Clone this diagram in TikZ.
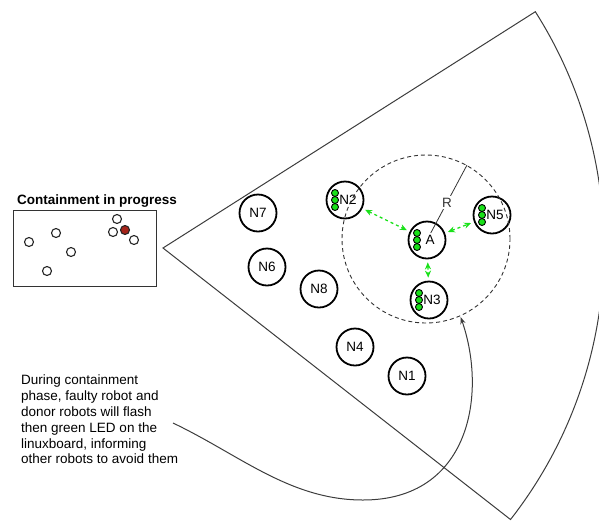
\documentclass[tikz,border=0pt]{standalone}
\usepackage{fontspec}
\setmainfont{Liberation Sans}
\usetikzlibrary{arrows.meta}
\usetikzlibrary{positioning}

\definecolor{ledgreen}{RGB}{25,225,25}
\definecolor{faulty}{RGB}{165,35,25}
\definecolor{edge}{RGB}{60,60,60}

\tikzset{
  robot/.style={circle, draw=black, line width=1.8pt, minimum size=37pt, inner sep=0pt},
  dot/.style={circle, draw=black!85, line width=1.1pt, minimum size=9pt, inner sep=0pt},
  led/.style={circle, draw=black, line width=0.9pt, fill=ledgreen, minimum size=7pt, inner sep=0pt},
  link/.style={ledgreen, dashed, line width=1.3pt, {Stealth[length=7pt, width=6pt]}-{Stealth[length=7pt, width=6pt]}, shorten <=3pt, shorten >=3pt},
}

\begin{document}
\begin{tikzpicture}[x=1pt, y=-1pt, font=\fontsize{13.5}{15.8}\selectfont]
  \useasboundingbox (0,0) rectangle (599,520);

  % the sensing sector
  \coordinate (apex) at (163,248);
  \draw[edge, line width=1pt] (apex) -- ++(-32.4:441) arc[start angle=-32.4, end angle=38, radius=441] -- cycle;

  % inset
  \node[anchor=base west, font=\bfseries\fontsize{13.5}{15.8}\selectfont, inner sep=0pt] (title) at (17,204) {Containment in progress};
  \draw[black!80, line width=1pt] (13,210) rectangle (156,286);
  \foreach \x/\y [count=\i] in {29/242, 56/233, 71/252, 47/271, 117/219, 113/232, 134/240}
    \node[dot] (d\i) at (\x,\y) {};
  \node[dot, fill=faulty] (bad) at (125,230) {};

  % robots
  \node[robot] (n7) at (258,213) {N7};
  \node[robot] (n6) at (267,267) {N6};
  \node[robot] (n8) at (319,289) {N8};
  \node[robot] (n4) at (355,347) {N4};
  \node[robot] (n1) at (407,376) {N1};
  \node[robot] (a) at (427,240) {\hspace*{6pt}A};
  \node[robot] (n2) at (345,200) {\hspace*{6pt}N2};
  \node[robot] (n5) at (492,215) {\hspace*{6pt}N5};
  \node[robot] (n3) at (429,300) {\hspace*{6pt}N3};

  % flashing leds
  \foreach \n in {a,n2,n5,n3}
    \foreach \dy in {-7,0,7}
      \node[led] (\n led\dy) at ([shift={(-10,\dy)}]\n.center) {};

  % avoidance zone
  \node[draw=black!80, circle, minimum size=168pt, line width=0.9pt, dash pattern=on 4pt off 3pt] (zone) at (426,239) {};
  \draw[black!80, line width=0.8pt, shorten <=8pt] (a.center) -- node[fill=white, inner sep=1.5pt] (rlab) {R} (zone.61);

  \draw[link] (n2) -- (a);
  \draw[link] (a) -- (n5);
  \draw[link] (a) -- (n3);

  % note
  \node[anchor=north west, align=left, inner sep=0pt] (note) at (21,375) {During containment\\phase, faulty robot and\\donor robots will flash\\then green LED on the\\linuxboard, informing\\other robots to avoid them};
  \coordinate (tip) at (173,423);
  \coordinate (bend) at (363,500);
  \draw[edge, line width=1pt, shorten >=1pt, -{Stealth[length=7pt]}] (tip) .. controls +(67,32) and +(-73,0) .. (bend) .. controls +(107,0) and +(27,78) .. (zone.-66);
\end{tikzpicture}
\end{document}
